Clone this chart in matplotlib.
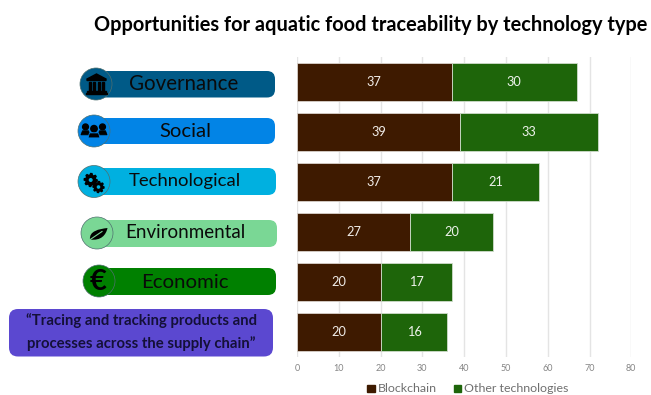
import matplotlib
matplotlib.use("Agg")
import matplotlib.pyplot as plt
from matplotlib.patches import FancyBboxPatch, Circle, Polygon, Rectangle, PathPatch
from matplotlib.path import Path
import numpy as np

plt.rcParams['font.family'] = ['Lato', 'DejaVu Sans']

title = "Opportunities for aquatic food traceability by technology type"
blockchain = [37, 39, 37, 27, 20, 20]
other_tech = [30, 33, 21, 20, 17, 16]
series_names = ["Blockchain", "Other technologies"]
x_ticks = [0, 10, 20, 30, 40, 50, 60, 70, 80]
pill_labels = ["Governance", "Social", "Technological", "Environmental", "Economic"]
pill_colors = ["#005A87", "#0284E6", "#00B0E0", "#7AD795", "#008000"]
quote = "\u201cTracing and tracking products and\nprocesses across the supply chain\u201d"

W, H = 651, 395
BROWN, GREEN = "#3E1A00", "#1E650A"
fig = plt.figure(figsize=(W / 100, H / 100), dpi=100)

# Bar panel, placed in pixel terms
ax = fig.add_axes([297 / W, 1 - 357 / H, (631.3 - 297) / W, 300 / H])
rows = np.arange(len(blockchain))
ax.barh(rows, blockchain, height=0.77, color=BROWN, edgecolor="#d9d2cc", linewidth=0.6, zorder=3)
ax.barh(rows, other_tech, left=blockchain, height=0.77, color=GREEN, edgecolor="#cfdccb", linewidth=0.6, zorder=3)
for r, b, o in zip(rows, blockchain, other_tech):
    ax.text(b / 2, r, str(b), color="#f0ece8", ha="center", va="center", fontsize=9.2, zorder=4)
    ax.text(b + o / 2, r, str(o), color="#eef2ec", ha="center", va="center", fontsize=9.2, zorder=4)
ax.set_xlim(0, 80)
ax.set_ylim(len(blockchain) - 0.5, -0.5)
ax.set_yticks([])
ax.set_xticks(x_ticks)
ax.grid(axis="x", color="#e4e4e4", linewidth=1, zorder=0)
ax.tick_params(axis="x", length=0, labelsize=6.5, labelcolor="#858585", pad=5)
for side in ax.spines.values():
    side.set_visible(False)

# Overlay in pixel coordinates for the title, legend and category badges
ov = fig.add_axes([0, 0, 1, 1], zorder=5)
ov.set_xlim(0, W)
ov.set_ylim(H, 0)
ov.axis("off")
ov.patch.set_alpha(0)

ov.text(370.5, 25, title, ha="center", va="center", fontsize=14.45, fontweight="bold", color="black")

# Legend
ov.add_patch(Rectangle((367, 384.5), 7.5, 7.5, color=BROWN))
ov.text(378, 388, series_names[0], ha="left", va="center", fontsize=8.9, color="#6f6f6f")
ov.add_patch(Rectangle((453.5, 384.5), 7.5, 7.5, color=GREEN))
ov.text(464, 388, series_names[1], ha="left", va="center", fontsize=8.9, color="#6f6f6f")


def pill(x0, x1, y0, y1, color, rad=8):
    ov.add_patch(FancyBboxPatch((x0 + rad, y0 + rad), x1 - x0 - 2 * rad, y1 - y0 - 2 * rad,
                                boxstyle=f"round,pad={rad},rounding_size={rad}",
                                facecolor=color, edgecolor="none"))


def bank(cx, cy):
    ov.add_patch(Polygon([(cx - 9.5, cy - 5), (cx, cy - 10), (cx + 9.5, cy - 5), (cx + 9.5, cy - 3.5), (cx - 9.5, cy - 3.5)],
                         color="black"))
    for dx in (-7.5, -3.2, 1.1, 5.4):
        ov.add_patch(Rectangle((cx + dx, cy - 2.5), 2.1, 9.5, color="black"))
    ov.add_patch(Rectangle((cx - 9.5, cy + 7), 19, 1.5, color="black"))
    ov.add_patch(Rectangle((cx - 10.5, cy + 8.5), 21, 1.5, color="black"))


def person(cx, top, r, bw, bh, edge=None):
    body = [(cx - bw, top + 2 * r + bh), (cx - bw + 1.5, top + 2 * r + 1),
            (cx + bw - 1.5, top + 2 * r + 1), (cx + bw, top + 2 * r + bh)]
    ov.add_patch(Circle((cx, top + r), r, color="black"))
    ov.add_patch(Polygon(body, facecolor="black", edgecolor=edge or "black", linewidth=0.6))


def people(cx, cy):
    person(cx - 8.5, cy - 7, 2.9, 4.5, 5)
    person(cx + 8.5, cy - 7, 2.9, 4.5, 5)
    person(cx, cy - 5.5, 3.2, 6, 6, edge=pill_colors[1])


def gear(cx, cy, r, teeth, bg):
    ang = np.linspace(0, 2 * np.pi, teeth * 4, endpoint=False)
    rad = np.tile([r, r, r * 0.74, r * 0.74], teeth)
    ov.add_patch(Polygon(np.c_[cx + rad * np.cos(ang), cy + rad * np.sin(ang)], color="black"))
    ov.add_patch(Circle((cx, cy), r * 0.2, color=bg))


def leaf(cx, cy):
    verts = [(cx - 8, cy + 5.5), (cx - 9, cy - 3), (cx + 1, cy - 5), (cx + 9.5, cy - 6),
             (cx + 8, cy + 1), (cx + 3, cy + 7), (cx - 8, cy + 5.5)]
    codes = [Path.MOVETO, Path.CURVE4, Path.CURVE4, Path.CURVE4, Path.CURVE4, Path.CURVE4, Path.CURVE4]
    ov.add_patch(PathPatch(Path(verts, codes), facecolor="black", edgecolor="none"))
    ov.plot([cx - 8.5, cx + 4], [cy + 6, cy - 2.5], color=pill_colors[3], lw=0.8)


def euro(cx, cy):
    ov.text(cx, cy, "\u20ac", ha="center", va="center", fontsize=21, fontweight="bold", color="black")


pill_boxes = [(96, 275, 71, 97.5), (94, 275, 118, 144), (94, 276, 168, 195), (97, 277, 220, 247), (99, 276, 268, 295)]
circle_centres = [(96, 84), (94, 131), (94, 181.5), (97, 233), (99, 281)]
text_anchors = [(184, 90), (185.5, 137.3), (184.5, 186), (185.5, 238.3), (185, 287.7)]
text_sizes = [14.8, 14.6, 13.3, 13.5, 14.7]

for (x0, x1, y0, y1), (cx, cy), (tx, ty), size, color, label in zip(pill_boxes, circle_centres, text_anchors,
                                                                   text_sizes, pill_colors, pill_labels):
    pill(x0, x1, y0, y1, color)
    ov.add_patch(Circle((cx, cy), 16, facecolor=color, edgecolor="#4f6f6f", linewidth=0.5))
    ov.text(tx, ty, label, ha="center", va="baseline", fontsize=size, color="#0a0a0a")

bank(96.5, 84)
people(94, 131)
gear(90.7, 180, 6.5, 8, pill_colors[2])
gear(98.5, 187, 5.5, 8, pill_colors[2])
leaf(98, 234)
euro(98, 281.5)

pill(9, 273, 309, 356.5, "#5B48D0", rad=9)
ov.text(141.5, 332, quote, ha="center", va="center", fontsize=10.7, fontweight="bold",
        color="#141038", linespacing=1.62)

fig.savefig("out.png", dpi=100)
